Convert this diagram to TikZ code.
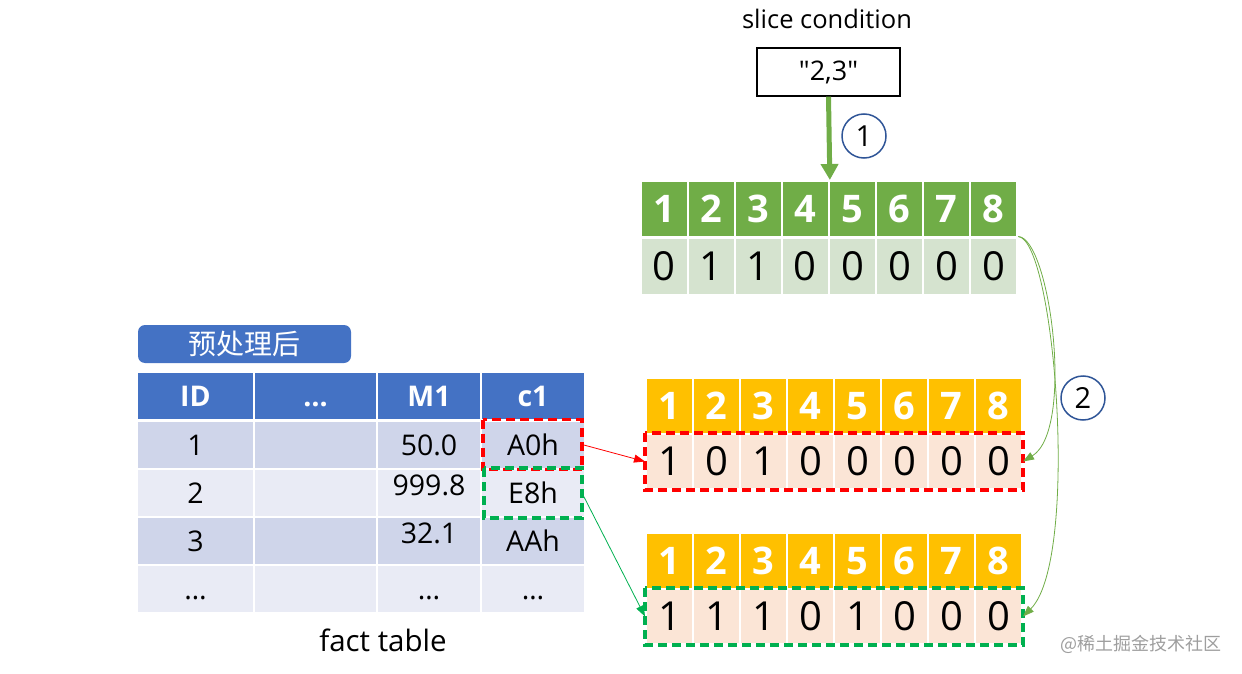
\documentclass[tikz,border=0pt]{standalone}
\usepackage{fontspec}
\setmainfont{Open Sans}[Ligatures=TeXOff]
\newfontfamily\cjk{Noto Sans CJK SC}
\usetikzlibrary{arrows.meta}
\definecolor{bitgreen}{HTML}{70AD47}
\definecolor{bitlight}{HTML}{D5E3CF}
\definecolor{bityellow}{HTML}{FFC000}
\definecolor{bitpeach}{HTML}{FBE5D6}
\definecolor{tblblue}{HTML}{4472C4}
\definecolor{rowdark}{HTML}{CFD5EA}
\definecolor{rowlight}{HTML}{E9EBF5}
\definecolor{circblue}{HTML}{2F5597}
\definecolor{dashgreen}{HTML}{00B050}
\def\fs#1{\fontsize{#1}{#1}\selectfont}

\begin{document}
\begin{tikzpicture}[x=1pt,y=-1pt,
	cell/.style={draw=white, line width=2pt, inner sep=0pt, minimum width=47pt, minimum height=#1},
	tcell/.style={draw=white, line width=2pt, inner sep=0pt, text height=21pt, text depth=0pt, font=\fs{28.5}},
	numcirc/.style={circle, draw=circblue, line width=1.5pt, minimum size=44pt, inner sep=0pt, font=\fs{29}},
	reddash/.style={draw=red, line width=3.5pt, dash pattern=on 9pt off 5pt},
	greendash/.style={draw=dashgreen, line width=3.5pt, dash pattern=on 9pt off 5pt},
	thinarrow/.style={line width=0.8pt, -{Triangle[width=8pt,length=11pt]}}]
			\useasboundingbox (0,0) rectangle (1242,674);
			%%%%% START %%%%%
			\node[font=\fs{25.5}] (title) at (827,19) {slice condition};
			\node[draw, line width=1.2pt, minimum width=143pt, minimum height=48pt, font=\fs{27}] (cond) at (828.5,72) {"2,3"};
			
			% bitmap of the condition
			\foreach \i/\v in {1/0,2/1,3/1,4/0,5/0,6/0,7/0,8/0} {
				\node[cell=56pt, fill=bitgreen, text=white, font=\fs{38}\bfseries] (g\i) at ({640.5+47.1*(\i-0.5)},209) {\i};
				\node[cell=57pt, fill=bitlight, font=\fs{40}] (gv\i) at ({640.5+47.1*(\i-0.5)},266) {\v};
			}
			\draw[line width=5pt, bitgreen, -{Triangle[width=17pt,length=16pt]}] (cond.south) -- (g4.north east);
			\node[numcirc] (n1) at (864,136) {1};
			
			% bitmaps of the rows
			\foreach \i/\a/\b in {1/1/1,2/0/1,3/1/1,4/0/0,5/0/1,6/0/0,7/0/0,8/0/0} {
				\node[cell=56pt, fill=bityellow, text=white, font=\fs{38}\bfseries] (ya\i) at ({646+47*(\i-0.5)},406) {\i};
				\node[cell=55pt, fill=bitpeach, font=\fs{40}] (yav\i) at ({646+47*(\i-0.5)},461.5) {\a};
				\node[cell=56pt, fill=bityellow, text=white, font=\fs{38}\bfseries] (yb\i) at ({646+47*(\i-0.5)},561) {\i};
				\node[cell=55pt, fill=bitpeach, font=\fs{40}] (ybv\i) at ({646+47*(\i-0.5)},616.5) {\b};
			}
			\draw[reddash] (yav1.north west) rectangle (yav8.south east);
			\draw[greendash] (ybv1.north west) rectangle (ybv8.south east);
			
			% fact table
			\node[fill=tblblue, rounded corners=7pt, minimum width=213pt, minimum height=38pt, text=white, font=\cjk\fs{28}] (pre) at (244.5,344) {预处理后};
			\foreach \c/\x/\w/\t in {1/195.5/117/ID, 2/315.5/123/\ldots, 3/429/104/M1, 4/533/104/c1}
				\node[tcell, fill=tblblue, text=white, font=\fs{28.5}\bfseries, minimum width=\w pt, minimum height=48pt] (h\c) at (\x,396) {\t};
			\foreach \r/\y/\f/\a/\b/\c in {1/444.5/rowdark/1/50.0/A0h, 2/493/rowlight/2/\raisebox{8pt}{999.8}/E8h, 3/541/rowdark/3/\raisebox{8pt}{32.1}/AAh, 4/589/rowlight/\ldots/\ldots/\ldots} {
				\node[tcell, fill=\f, minimum width=117pt, minimum height=48pt] (r\r c1) at (195.5,\y) {\a};
				\node[tcell, fill=\f, minimum width=123pt, minimum height=48pt] (r\r c2) at (315.5,\y) {};
				\node[tcell, fill=\f, minimum width=104pt, minimum height=48pt] (r\r c3) at (429,\y) {\b};
				\node[tcell, fill=\f, minimum width=104pt, minimum height=48pt] (r\r c4) at (533,\y) {\c};
			}
			\draw[reddash] ([xshift=3pt]r1c4.north west) rectangle ([xshift=-4pt]r1c4.south east);
			\draw[greendash] ([xshift=4pt]r2c4.north west) rectangle ([xshift=-4pt]r2c4.south east);
			\node[font=\fs{29.5}] (fact) at (383,640) {fact table};
			
			% connectors
			\draw[thinarrow, red] ([xshift=-4pt]r1c4.east) -- (yav1.west);
			\draw[thinarrow, dashgreen] ([xshift=-4pt]r2c4.east) -- (ybv1.west);
			\draw[thinarrow, bitgreen] (gv8.north east) .. controls (1050,238) and (1075,430) .. (yav8.east);
			\draw[thinarrow, bitgreen] (gv8.north east) .. controls (1055,240) and (1080,560) .. (ybv8.east);
			\node[numcirc] (n2) at (1083,398) {2};
			
			\node[font=\cjk\fs{18}, text=black!38] (mark) at (1141,644) {@稀土掘金技术社区};
			%%%%% END %%%%%
		\end{tikzpicture}
\end{document}
